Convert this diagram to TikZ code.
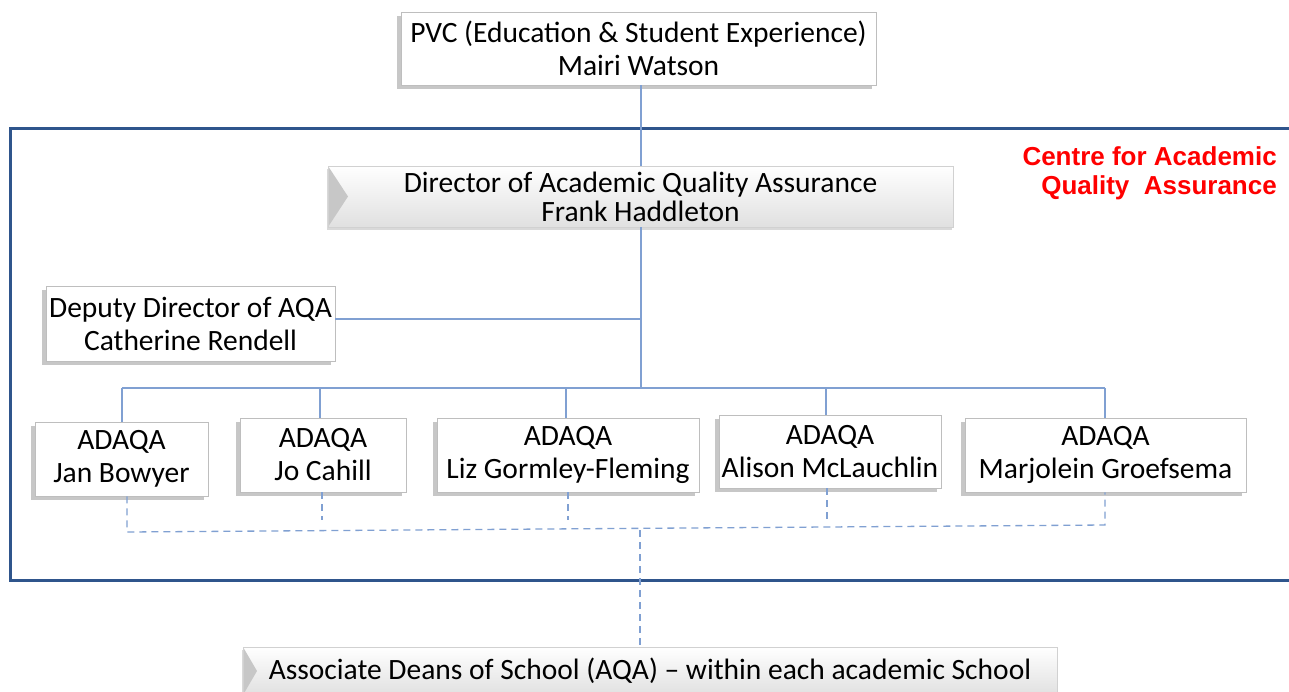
\documentclass[tikz,border=0pt]{standalone}
\usepackage{fontspec}
\setmainfont{Carlito}
\newfontfamily\arialfont{Liberation Sans}
\usetikzlibrary{shadows,calc}
\definecolor{conn}{RGB}{128,160,210}
\definecolor{frame}{RGB}{47,85,140}
\definecolor{boxline}{RGB}{190,190,190}
\definecolor{redtxt}{RGB}{255,0,0}
\tikzset{
  plainbox/.style={draw=boxline, line width=0.8pt, fill=white, align=center, inner sep=1pt,
    font=\fontsize{29.5}{33}\selectfont,
    drop shadow={shadow xshift=-4pt, shadow yshift=-4pt, fill=black, opacity=0.22}},
  bevelbox/.style={draw=boxline!70, line width=0.6pt, top color=white, bottom color=black!12, align=center, inner sep=1pt,
    font=\fontsize{29.5}{29}\selectfont,
    drop shadow={shadow xshift=-1pt, shadow yshift=-3pt, fill=black, opacity=0.15},
    path picture={\fill[black!22] (path picture bounding box.north west) -- ([xshift=#1]path picture bounding box.west) -- (path picture bounding box.south west) -- cycle;}},
  link/.style={draw=conn, line width=1.3pt},
  dlink/.style={draw=conn, line width=1.3pt, dash pattern=on 7pt off 5pt},
}
\begin{document}
\begin{tikzpicture}[x=1pt,y=-1pt]
\useasboundingbox (0,0) rectangle (1289,691);
\fill[white] (0,0) rectangle (1289,691);
% frame
\draw[frame, line width=3pt] (1300,128) -- (10,128) -- (10,580) -- (1300,580);
% nodes
\node[plainbox, minimum width=475pt, minimum height=73pt] (pvc) at (638.5,48.5) {PVC (Education \& Student Experience)\\Mairi Watson};
\node[bevelbox=20pt, minimum width=625pt, minimum height=61pt] (dir) at (640.5,196.5) {Director of Academic Quality Assurance\\Frank Haddleton};
\node[plainbox, minimum width=289pt, minimum height=75pt] (dep) at (190.5,323.5) {Deputy Director of AQA\\Catherine Rendell};
\node[plainbox, minimum width=173pt, minimum height=74pt] (jan) at (121.5,459) {ADAQA\\Jan Bowyer};
\node[plainbox, minimum width=166pt, minimum height=74pt] (jo) at (323,455) {ADAQA\\Jo Cahill};
\node[plainbox, minimum width=262pt, minimum height=74pt] (liz) at (568,455) {ADAQA\\Liz Gormley-Fleming};
\node[plainbox, minimum width=222pt, minimum height=73pt] (ali) at (830,451.5) {ADAQA\\Alison McLauchlin};
\node[plainbox, minimum width=281pt, minimum height=74pt] (mar) at (1105.5,455) {ADAQA\\Marjolein Groefsema};
\node[bevelbox=14pt, minimum width=814pt, minimum height=48pt] (asd) at (650,671) {Associate Deans of School (AQA) -- within each academic School};
% red title
\node[anchor=north east, align=right, text=redtxt, inner sep=0pt, font=\arialfont\bfseries\fontsize{26}{29}\selectfont] (title) at (1277,146) {Centre for Academic\\Quality\ \ Assurance};
% coordinates
\coordinate (hub) at (641,319);
\coordinate (bus) at (641,388);
\coordinate (busL) at (122,388);
\coordinate (busR) at (1105,388);
\coordinate (dL) at (127,532);
\coordinate (dR) at (1105,525);
\coordinate (dM) at (640,530);
% solid connectors
\draw[link] (pvc.south -| bus) -- (dir.north -| bus);
\draw[link] (dir.south -| bus) -- (bus);
\draw[link] (hub -| dep.east) -- (hub);
\draw[link] (busL) -- (busR);
\draw[link] (busL) -- (jan.north -| busL);
\draw[link] (320,388) -- (jo.north -| 320,0);
\draw[link] (566,388) -- (liz.north -| 566,0);
\draw[link] (826,388) -- (ali.north -| 826,0);
\draw[link] (busR) -- (mar.north -| busR);
% dashed connectors
\draw[dlink] (jan.south -| dL) -- (dL) -- (dR) -- (mar.south -| dR);
\draw[dlink] (jo.south -| 322,0) -- (322,520);
\draw[dlink] (liz.south -| 568,0) -- (568,520);
\draw[dlink] (ali.south -| 827,0) -- (827,520);
\draw[dlink] (dM) -- (asd.north -| dM);
\end{tikzpicture}
\end{document}
